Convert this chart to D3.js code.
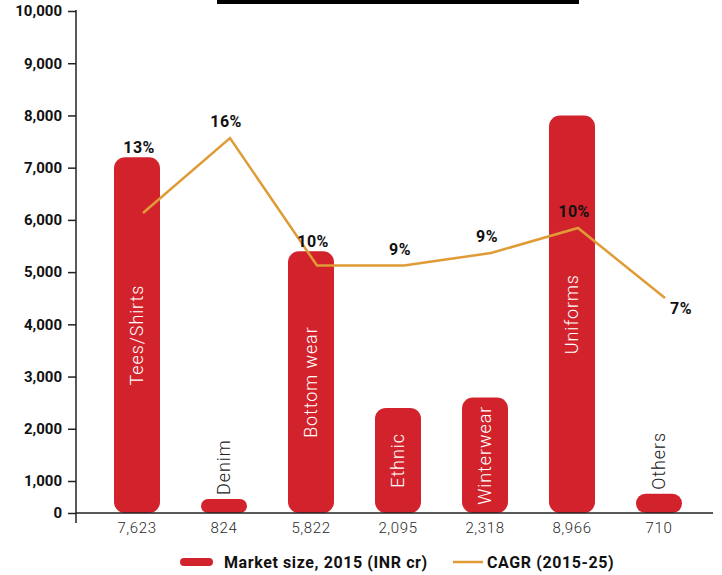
<!DOCTYPE html>
<html>
<head>
<meta charset="utf-8">
<script src="https://cdn.jsdelivr.net/npm/d3@7"></script>
<style>
  body { margin:0; background:#fff; }
  svg text { font-family: Roboto, "Open Sans", sans-serif; }
</style>
</head>
<body>
<div id="chart-area"></div>
<script>
// values
var categories = ["Tees/Shirts","Denim","Bottom wear","Ethnic","Winterwear","Uniforms","Others"];
var barValues = [7200, 440, 5400, 2400, 2600, 8000, 600];   // drawn bar heights
var marketLabels = ["7,623","824","5,822","2,095","2,318","8,966","710"];
var cagrValues = [12.0, 15.0, 9.9, 9.9, 10.4, 11.4, 8.6];   // line position on hidden axis
var cagrLabels = ["13%","16%","10%","9%","9%","10%","7%"];
var yTicks = [0,1000,2000,3000,4000,5000,6000,7000,8000,9000,10000];

var width = 722, height = 575;
var red = "#d2232c", orange = "#df9b36";

var svg = d3.select("#chart-area")
    .append("svg")
    .attr("width", width)
    .attr("height", height);

// cut-off title box at top
svg.append("rect")
    .attr("x", 217).attr("y", 0)
    .attr("width", 362).attr("height", 4)
    .attr("fill", "#000");

var x = d3.scalePoint()
    .domain(categories)
    .range([137, 659]);
var y = d3.scaleLinear()
    .domain([0, 1000, 10000])
    .range([513, 481, 11]);
var y2 = d3.scaleLinear()
    .domain([0, 20])
    .range([513, 13]);

var barW = 46;
var lineShift = 6;

// y axis
var yAxisCall = d3.axisLeft(y)
    .tickValues(yTicks)
    .tickSize(8)
    .tickPadding(6)
    .tickFormat(d3.format(","));
var yAxis = svg.append("g")
    .attr("transform", "translate(76,0)")
    .call(yAxisCall);
yAxis.select(".domain").remove();
yAxis.selectAll("line").attr("stroke", "#222").attr("stroke-width", 1.5);
yAxis.selectAll("text")
    .attr("font-size", "15px")
    .attr("font-weight", "bold")
    .attr("fill", "#111");
svg.append("line")
    .attr("x1", 76).attr("x2", 76)
    .attr("y1", 10).attr("y2", 523)
    .attr("stroke", "#222").attr("stroke-width", 1.5);

// bars
svg.selectAll(".bar").data(barValues)
  .enter()
  .append("rect")
    .attr("class", "bar")
    .attr("x", function(d, i){ return x(categories[i]) - barW/2; })
    .attr("y", function(d){ return y(d); })
    .attr("width", barW)
    .attr("height", function(d){ return y(0) - y(d); })
    .attr("rx", function(d){ return Math.min(11, (y(0) - y(d))/2); })
    .attr("fill", red);

// baseline
svg.append("line")
    .attr("x1", 76).attr("x2", 713)
    .attr("y1", y(0)).attr("y2", y(0))
    .attr("stroke", "#222").attr("stroke-width", 1.5);

// category names, rotated
svg.selectAll(".cat").data(categories)
  .enter()
  .append("text")
    .attr("class", "cat")
    .attr("transform", function(d, i){
      var h = y(0) - y(barValues[i]);
      var cx = x(d) + 6;
      if (h < 40) {
        return "translate(" + cx + "," + (y(barValues[i]) - 4) + ") rotate(-90)";
      }
      var cy = y(barValues[i]) + h/2;
      return "translate(" + cx + "," + cy + ") rotate(-90)";
    })
    .attr("text-anchor", function(d, i){
      return (y(0) - y(barValues[i])) < 40 ? "start" : "middle";
    })
    .attr("font-size", "18px")
    .attr("font-weight", 300)
    .attr("letter-spacing", "0.9px")
    .attr("fill", function(d, i){
      return (y(0) - y(barValues[i])) < 40 ? "#222" : "#fff";
    })
    .text(function(d){ return d; });

// market size labels under bars
svg.selectAll(".mkt").data(marketLabels)
  .enter()
  .append("text")
    .attr("class", "mkt")
    .attr("x", function(d, i){ return x(categories[i]); })
    .attr("y", 533)
    .attr("text-anchor", "middle")
    .attr("font-size", "15px")
    .attr("font-weight", 300)
    .attr("letter-spacing", "0.6px")
    .attr("fill", "#2a2a2a")
    .text(function(d){ return d; });

// CAGR line
var line = d3.line()
    .x(function(d, i){ return x(categories[i]) + lineShift; })
    .y(function(d){ return y2(d); });
svg.append("path")
    .datum(cagrValues)
    .attr("d", line)
    .attr("fill", "none")
    .attr("stroke", orange)
    .attr("stroke-width", 2.5);

// CAGR labels
svg.selectAll(".cagr").data(cagrValues)
  .enter()
  .append("text")
    .attr("class", "cagr")
    .attr("x", function(d, i){
      var px = x(categories[i]) + lineShift;
      return i == cagrValues.length - 1 ? px + 16 : px - 4;
    })
    .attr("y", function(d, i){
      var py = y2(d);
      var top = y(barValues[i]);
      if (i == cagrValues.length - 1) return py + 16;
      if (py > top && py - top < 80) return top - 4;
      return py - 11;
    })
    .attr("text-anchor", "middle")
    .attr("font-size", "16px")
    .attr("font-weight", "bold")
    .attr("letter-spacing", "0.4px")
    .attr("fill", "#111")
    .text(function(d, i){ return cagrLabels[i]; });

// legend
var legend = svg.append("g");
legend.append("rect")
    .attr("x", 180).attr("y", 558)
    .attr("width", 33).attr("height", 8)
    .attr("rx", 4)
    .attr("fill", red);
legend.append("text")
    .attr("x", 224).attr("y", 568)
    .attr("font-size", "16px")
    .attr("font-weight", "bold")
    .attr("letter-spacing", "0.6px")
    .attr("fill", "#111")
    .text("Market size, 2015 (INR cr)");
legend.append("line")
    .attr("x1", 453).attr("x2", 483)
    .attr("y1", 562).attr("y2", 562)
    .attr("stroke", orange)
    .attr("stroke-width", 2.5);
legend.append("text")
    .attr("x", 487).attr("y", 568)
    .attr("font-size", "16px")
    .attr("font-weight", "bold")
    .attr("letter-spacing", "0.6px")
    .attr("fill", "#111")
    .text("CAGR (2015-25)");
</script>
</body>
</html>
